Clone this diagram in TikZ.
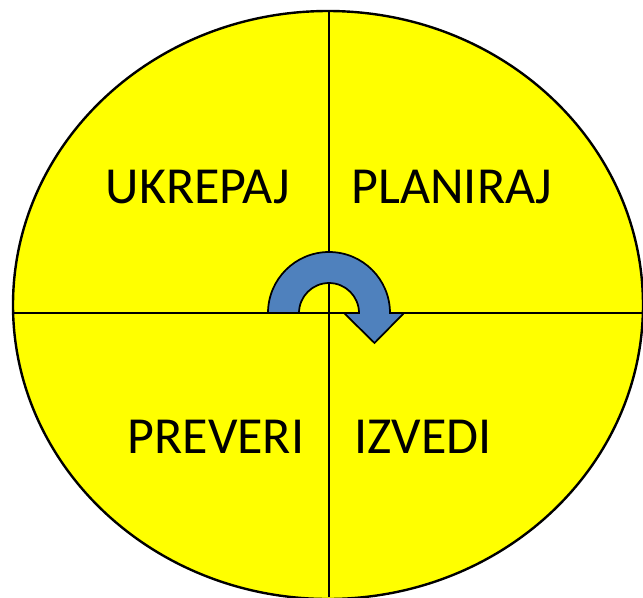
\documentclass[tikz,border=0pt]{standalone}
\usepackage{fontspec}
\setmainfont{Carlito}
\usepackage{tikz}
\usetikzlibrary{calc}

\definecolor{wheelyellow}{HTML}{FFFF00}
\definecolor{arrowblue}{HTML}{4F81BD}

\begin{document}
\begin{tikzpicture}[x=0.75pt, y=-0.75pt,
        phase/.style={anchor=base, font=\fontsize{39}{44}\selectfont},
        divider/.style={line width=1.2pt},
        turn/.style={fill=arrowblue, draw=black, line width=1.3pt, line join=miter}]
    \useasboundingbox (0,0) rectangle (643,597);
    \draw[fill=wheelyellow, line width=1.8pt] (328,305) ellipse [x radius=315, y radius=294];
    \coordinate (top) at (329,11);
    \coordinate (bottom) at (329,597);
    \coordinate (left) at (13,313);
    \coordinate (right) at (643,313);
    \draw[divider] (top) -- (bottom);
    \draw[divider] (left) -- (right);
    \coordinate (hub) at (329,313);
    \draw[turn] ($(hub)+(-61,0)$) arc[start angle=180, end angle=360, radius=61]
        -- ($(hub)+(75,0)$) -- ($(hub)+(45.5,30)$) -- ($(hub)+(15,0)$)
        -- ($(hub)+(30,0)$) arc[start angle=0, end angle=-180, radius=30] -- cycle;
    \node[phase] (act) at (198,203) {UKREPAJ};
    \node[phase] (plan) at (452,203) {PLANIRAJ};
    \node[phase] (check) at (216,453) {PREVERI};
    \node[phase] (do) at (423,453) {IZVEDI};
\end{tikzpicture}
\end{document}
